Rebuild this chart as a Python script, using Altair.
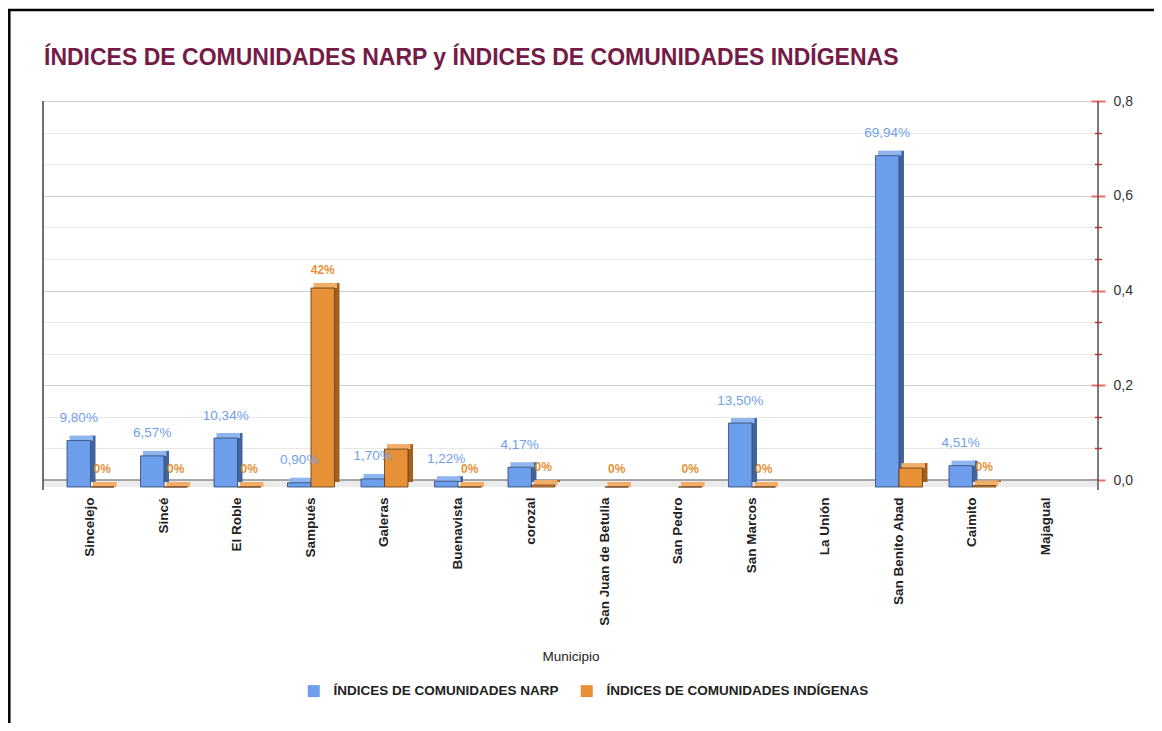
import altair as alt
import pandas as pd

# ---------------- data ----------------
municipios = ["Sincelejo", "Sincé", "El Roble", "Sampués", "Galeras", "Buenavista",
              "corozal", "San Juan de Betulia", "San Pedro", "San Marcos", "La Unión",
              "San Benito Abad", "Caimito", "Majagual"]
narp = [0.098, 0.0657, 0.1034, 0.009, 0.017, 0.0122, 0.0417, None, None, 0.135,
        None, 0.6994, 0.0451, None]
indigena = [0.0, 0.0, 0.0, 0.42, 0.08, 0.0, 0.004, 0.0, 0.0, 0.0, None, 0.04, 0.003, None]
narp_labels = ["9,80%", "6,57%", "10,34%", "0,90%", "1,70%", "1,22%", "4,17%", None, None,
               "13,50%", None, "69,94%", "4,51%", None]
ind_labels = ["0%", "0%", "0%", "42%", None, "0%", "0%", "0%", "0%", "0%", None, None, "0%", None]
series = ["ÍNDICES DE COMUNIDADES NARP", "ÍNDICES DE COMUNIDADES INDÍGENAS"]
colors = ["#6d9eeb", "#e69138"]
major_ticks = [0.0, 0.2, 0.4, 0.6, 0.8]
minor_ticks = [0.0667, 0.1333, 0.2667, 0.3333, 0.4667, 0.5333, 0.6667, 0.7333]
chart_title = "ÍNDICES DE COMUNIDADES NARP y ÍNDICES DE COMUNIDADES INDÍGENAS"

df = pd.DataFrame({"Municipio": municipios, "narp": narp, "ind": indigena,
                   "narp_lbl": narp_labels, "ind_lbl": ind_labels})
one = pd.DataFrame({"t": [chart_title]})

# ---------------- layout ----------------
W, H = 1055, 379
PAD = {"left": 35, "top": 93, "right": 56, "bottom": 243}
FONT = "Liberation Sans"
BW = 23.5      # bar width
DX = 11.75     # half bar offset

ysc = alt.Scale(domain=[0, 0.8], nice=False, zero=True)
xsc = alt.Scale(domain=municipios, paddingInner=0, paddingOuter=0.177, align=0.413)
csc = alt.Scale(domain=series, range=colors)

base = alt.Chart(df)


def X(axis=None):
    return alt.X("Municipio:N", scale=xsc, sort=None, axis=axis)


def Y(field, axis=None):
    return alt.Y(f"{field}:Q", scale=ysc, axis=axis)


legend = alt.Legend(orient="none", legendX=264, legendY=583, direction="horizontal",
                    title=None, symbolType="square", symbolSize=144, symbolStrokeWidth=0,
                    labelFont=FONT, labelFontSize=13.5, labelFontWeight="bold",
                    labelColor="#222222", labelOffset=13, columnPadding=21, padding=0,
                    labelLimit=0)

xaxis = alt.Axis(title="Municipio", labelAngle=-90, labelFont=FONT, labelFontSize=13.5,
                 labelFontWeight="bold", labelColor="#222222", labelPadding=17,
                 ticks=False, domain=False, grid=False, labelLimit=0,
                 titleFont=FONT, titleFontSize=13.5, titleFontWeight="normal",
                 titleColor="#222222", titleY=176, titleBaseline="middle")

RED_MAJOR = "#f36b6b"
RED_MINOR = "#d92b2b"
label_expr = "replace(format(datum.value, '.1f'), '.', ',')"

ax_minor = alt.Axis(orient="right", values=minor_ticks, grid=True, gridColor="#e8e8e8",
                    domain=False, ticks=True, tickColor=RED_MINOR, tickSize=3.5,
                    tickWidth=1.5, labels=False, title=None)
ax_minor_in = alt.Axis(orient="right", values=minor_ticks, grid=False, domain=False,
                       ticks=True, tickColor=RED_MINOR, tickSize=3.5, tickWidth=1.5,
                       labels=False, title=None, offset=-3.5)
ax_major = alt.Axis(orient="right", values=major_ticks, grid=True, gridColor="#d0d0d0",
                    domain=False, ticks=True, tickColor=RED_MAJOR, tickSize=7, tickWidth=2,
                    labels=True, labelExpr=label_expr, labelFont=FONT, labelFontSize=14,
                    labelColor="#333333", labelPadding=8, title=None)
ax_major_in = alt.Axis(orient="right", values=major_ticks, grid=False, domain=False,
                       ticks=True, tickColor=RED_MAJOR, tickSize=7, tickWidth=2,
                       labels=False, title=None, offset=-7)

axis_layers = [base.mark_point(opacity=0).encode(y=Y("narp", ax)) for ax in
               (ax_minor, ax_minor_in, ax_major, ax_major_in)]

# decorations
floor = alt.Chart(one).mark_rect(color="#ececec", y2Offset=7).encode(
    y=alt.YDatum(0, axis=None), y2=alt.Y2Datum(0), x=alt.value(0), x2=alt.value(W))
zero_line = alt.Chart(one).mark_rule(color="#8c8c8c", strokeWidth=1.5).encode(
    y=alt.YDatum(0, axis=None), x=alt.value(0), x2=alt.value(W))
left_line = alt.Chart(one).mark_rule(color="#444444", strokeWidth=1.5).encode(
    x=alt.value(0), y=alt.value(0), y2=alt.value(389))
right_line = alt.Chart(one).mark_rule(color="#555555", strokeWidth=1.5).encode(
    x=alt.value(W), y=alt.value(0), y2=alt.value(389))
frame_top = alt.Chart(one).mark_rule(color="black", strokeWidth=2.5).encode(
    x=alt.value(-35), x2=alt.value(W + 56), y=alt.value(-91))
frame_left = alt.Chart(one).mark_rule(color="black", strokeWidth=2.5).encode(
    x=alt.value(-33.7), y=alt.value(-92), y2=alt.value(H + 243))
title_mark = alt.Chart(one).mark_text(align="left", baseline="alphabetic", font=FONT,
                                      fontSize=23, fontWeight="bold", color="#741b47").encode(
    x=alt.value(1), y=alt.value(-36), text="t:N")


def bar_faces(field, name, front, side, top, stroke, xo, with_axis=False):
    side_l = base.mark_bar(color=side, width=5, xOffset=xo + DX + 2.5,
                           yOffset=2, y2Offset=4.5).encode(x=X(), y=Y(field))
    top_l = base.mark_bar(color=top, width=BW, xOffset=xo + 2.5,
                          yOffset=2, y2Offset=7).encode(x=X(), y=Y(field), y2=alt.Y2(field))
    front_l = base.mark_bar(width=BW, xOffset=xo, yOffset=7, y2Offset=7, stroke=stroke,
                            strokeWidth=0.8, opacity=1).transform_calculate(
        serie=f"'{name}'").encode(
        x=X(xaxis if with_axis else None), y=Y(field),
        color=alt.Color("serie:N", scale=csc, legend=legend))
    return [side_l, top_l, front_l]


blue = bar_faces("narp", series[0], "#6d9eeb", "#41649c", "#8fb5f0", "#2c4470", -DX, True)
orange = bar_faces("ind", series[1], "#e69138", "#a3601f", "#f2ad68", "#5c3511", DX)

blue_lbl = base.mark_text(font=FONT, fontSize=13.5, color="#6fa0ec", xOffset=-DX, dy=-15.5,
                          baseline="middle").transform_filter("datum.narp_lbl != null").encode(
    x=X(), y=Y("narp"), text="narp_lbl:N")
orange_lbl = base.mark_text(font=FONT, fontSize=12, fontWeight="bold", color="#e69138",
                            xOffset=DX, dy=-11.5, baseline="middle").transform_filter(
    "datum.ind_lbl != null").encode(x=X(), y=Y("ind"), text="ind_lbl:N")

chart = alt.layer(
    *axis_layers, floor, zero_line, left_line, right_line,
    *blue, *orange, blue_lbl, orange_lbl,
    frame_top, frame_left, title_mark
).resolve_axis(y="independent", x="independent").properties(
    width=W, height=H, padding=PAD, autosize=alt.AutoSizeParams(type="none"),
    background="white"
).configure_view(stroke=None).configure(font=FONT)

chart.save("out.html", embed_options={"renderer": "svg", "actions": False})
